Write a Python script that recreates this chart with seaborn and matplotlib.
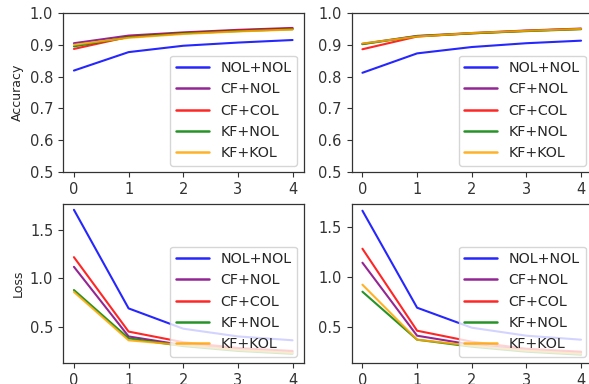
import numpy as np
import pandas as pd
import matplotlib
matplotlib.use("Agg")
import matplotlib.pyplot as plt
import seaborn as sns

epochs = [0, 1, 2, 3, 4]
methods = ["NOL+NOL", "CF+NOL", "CF+COL", "KF+NOL", "KF+KOL"]
colors = ["blue", "purple", "red", "green", "orange"]

acc_left = {
    "NOL+NOL": [0.819, 0.877, 0.897, 0.907, 0.915],
    "CF+NOL": [0.905, 0.929, 0.939, 0.947, 0.953],
    "CF+COL": [0.887, 0.925, 0.937, 0.945, 0.951],
    "KF+NOL": [0.895, 0.924, 0.936, 0.943, 0.949],
    "KF+KOL": [0.900, 0.922, 0.934, 0.942, 0.948],
}
acc_right = {
    "NOL+NOL": [0.812, 0.873, 0.893, 0.905, 0.913],
    "CF+NOL": [0.903, 0.928, 0.937, 0.945, 0.951],
    "CF+COL": [0.886, 0.926, 0.936, 0.944, 0.950],
    "KF+NOL": [0.902, 0.927, 0.936, 0.943, 0.949],
    "KF+KOL": [0.904, 0.926, 0.937, 0.944, 0.950],
}
loss_left = {
    "NOL+NOL": [1.71, 0.69, 0.48, 0.40, 0.36],
    "CF+NOL": [1.12, 0.40, 0.31, 0.27, 0.24],
    "CF+COL": [1.22, 0.45, 0.34, 0.28, 0.25],
    "KF+NOL": [0.88, 0.38, 0.30, 0.25, 0.22],
    "KF+KOL": [0.86, 0.36, 0.31, 0.26, 0.23],
}
loss_right = {
    "NOL+NOL": [1.66, 0.69, 0.49, 0.41, 0.37],
    "CF+NOL": [1.14, 0.41, 0.32, 0.27, 0.24],
    "CF+COL": [1.28, 0.46, 0.35, 0.28, 0.25],
    "KF+NOL": [0.85, 0.37, 0.30, 0.25, 0.22],
    "KF+KOL": [0.92, 0.37, 0.31, 0.26, 0.23],
}

def to_df(d):
    rows = []
    for m in methods:
        for e, v in zip(epochs, d[m]):
            rows.append({"epoch": e, "value": v, "method": m})
    return pd.DataFrame(rows)

sns.set_style("ticks")
plt.rcParams["font.family"] = ["DejaVu Sans"]

fig = plt.figure(figsize=(5.89, 3.84), dpi=100)
W = 240.5 / 589
H = 159 / 384
ax_tl = fig.add_axes([63 / 589, 1 - 172 / 384, W, H])
ax_tr = fig.add_axes([351.5 / 589, 1 - 172 / 384, W, H])
ax_bl = fig.add_axes([63 / 589, 1 - 363 / 384, W, H])
ax_br = fig.add_axes([351.5 / 589, 1 - 363 / 384, W, H])

palette = dict(zip(methods, colors))
for ax, d in [(ax_tl, acc_left), (ax_tr, acc_right), (ax_bl, loss_left), (ax_br, loss_right)]:
    sns.lineplot(data=to_df(d), x="epoch", y="value", hue="method", palette=palette,
                 hue_order=methods, ax=ax, linewidth=1.5, alpha=0.85)
    ax.set_xlabel("")
    ax.set_ylabel("")
    ax.set_xticks(epochs)
    ax.tick_params(labelsize=10.5, length=3.5, colors="#333333")
    for s in ax.spines.values():
        s.set_color("#333333")
        s.set_linewidth(0.9)
    leg = ax.legend(loc="lower right", fontsize=10.3, framealpha=0.8, handlelength=2.3,
                    borderaxespad=0.45)
    for line in leg.get_lines():
        line.set_linewidth(1.8)

for ax in (ax_tl, ax_tr):
    ax.set_ylim(0.5, 1.0)
    ax.set_yticks([0.5, 0.6, 0.7, 0.8, 0.9, 1.0])
ax_tl.set_ylabel("Accuracy", fontsize=9)
ax_bl.set_ylabel("Loss", fontsize=9)
ax_bl.set_ylim(0.125, 1.77)
ax_br.set_ylim(0.137, 1.727)
for ax in (ax_bl, ax_br):
    ax.set_yticks([0.5, 1.0, 1.5])

fig.savefig("out.png", dpi=100)
